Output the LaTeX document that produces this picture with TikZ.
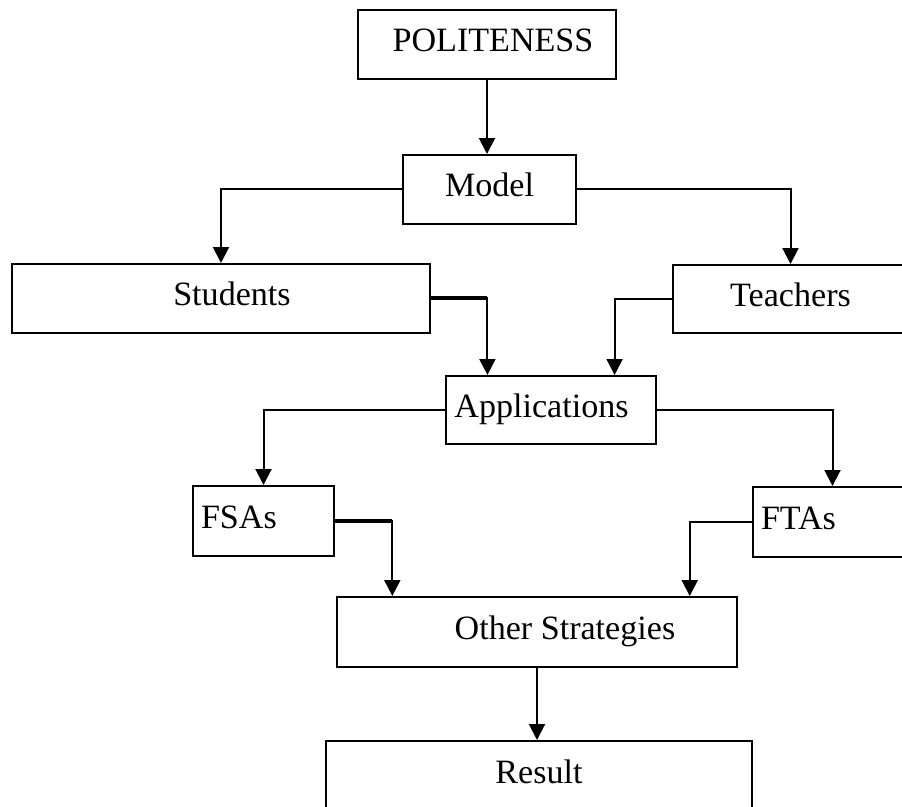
\documentclass[tikz,border=0pt]{standalone}
\usepackage{fontspec}
\setmainfont{Liberation Serif}
\usetikzlibrary{arrows.meta, positioning, calc}
\tikzset{
  flowbox/.style={
    draw,
    rectangle,
    line width = 0.04cm,
    inner sep = 0,
    text height = 0.48cm,
    text depth = 0.18cm,
    font = \fontsize{19.4}{23}\selectfont
  },
  sidebox/.style={
    flowbox,
    align = left,
    inner xsep = 0.16cm
  },
  link/.style={
    line width = 0.04cm,
    arrows = {-Triangle[length=0.32cm, width=0.32cm]}
  },
  stub/.style={
    line width = 0.08cm
  }
}

\begin{document}
\begin{tikzpicture}[x=0.02cm, y=-0.02cm]
    \useasboundingbox (0, 0) rectangle (902, 807);
    \coordinate (politepos) at (487, 44.5);
    \coordinate (modelpos) at (489.5, 189.5);
    \coordinate (studentspos) at (221, 298.5);
    \coordinate (teacherspos) at (790.5, 299);
    \coordinate (appspos) at (551, 410);
    \coordinate (fsaspos) at (263.5, 521);
    \coordinate (ftaspos) at (832.5, 522);
    \coordinate (otherpos) at (537, 632);
    \coordinate (resultpos) at (539, 776);
    \node (polite) at (politepos)[flowbox, minimum width = 5.16cm, minimum height = 1.38cm]{\hspace*{0.24cm}POLITENESS};
    \node (model) at (modelpos)[flowbox, minimum width = 3.46cm, minimum height = 1.38cm]{Model};
    \node (students) at (studentspos)[flowbox, minimum width = 8.36cm, minimum height = 1.38cm]{\hspace*{0.44cm}Students};
    \node (teachers) at (teacherspos)[flowbox, minimum width = 4.7cm, minimum height = 1.36cm]{Teachers};
    \node (apps) at (appspos)[flowbox, minimum width = 4.2cm, minimum height = 1.36cm]{Applications\hspace*{0.38cm}};
    \node (fsas) at (fsaspos)[sidebox, text width = 2.5cm, minimum height = 1.4cm]{FSAs};
    \node (ftas) at (ftaspos)[sidebox, text width = 2.86cm, minimum height = 1.4cm]{FTAs};
    \node (other) at (otherpos)[flowbox, minimum width = 8cm, minimum height = 1.4cm]{\hspace*{1.12cm}Other Strategies};
    \node (result) at (resultpos)[flowbox, minimum width = 8.52cm, minimum height = 1.4cm]{Result};
    % where the side links come down
    \coordinate (appsinleft) at ($ (apps.north west)!0.2!(apps.north east) $);
    \coordinate (appsinright) at ($ (apps.north west)!0.8!(apps.north east) $);
    \coordinate (otherinleft) at ($ (other.north west)!0.14!(other.north east) $);
    \coordinate (otherinright) at ($ (other.north west)!0.88!(other.north east) $);
    \draw[link] (polite.south) -- (polite.south |- model.north);
    \draw[link] (model.west) -| (students.north);
    \draw[link] (model.east) -| (teachers.north);
    \draw[link] (students.east) -| (appsinleft);
    \draw[stub] (students.east) -- (students.east -| appsinleft);
    \draw[link] (teachers.west) -| (appsinright);
    \draw[link] (apps.west) -| (fsas.north);
    \draw[link] (apps.east) -| (ftas.north);
    \draw[link] (fsas.east) -| (otherinleft);
    \draw[stub] (fsas.east) -- (fsas.east -| otherinleft);
    \draw[link] (ftas.west) -| (otherinright);
    \draw[link] (other.south) -- (other.south |- result.north);
  \end{tikzpicture}
\end{document}
